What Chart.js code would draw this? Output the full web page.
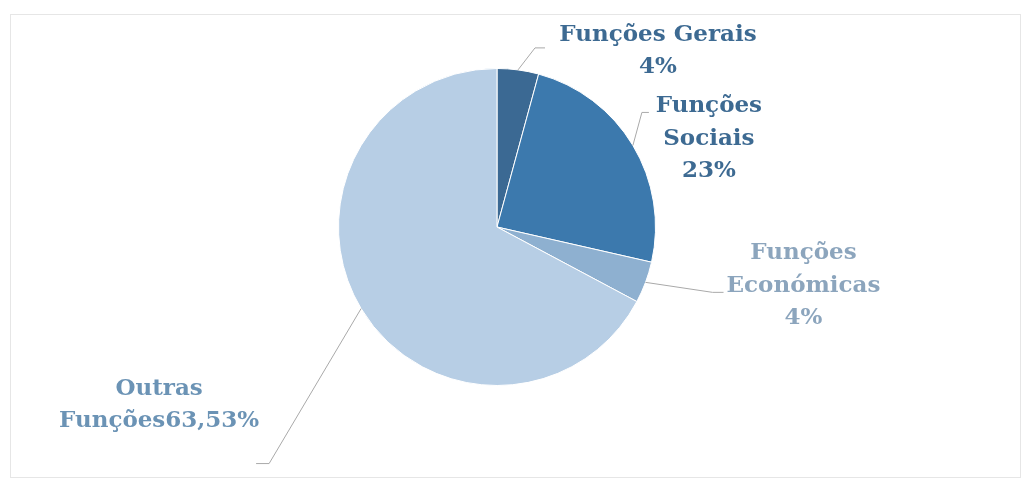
<!DOCTYPE html>
<html>
<head>
<meta charset="utf-8">
<script src="https://cdn.jsdelivr.net/npm/chart.js@4"></script>
<style>
  html, body { margin: 0; padding: 0; background: #fff; }
  #wrap { position: relative; width: 1027px; height: 484px; }
  #frame { position: absolute; left: 10px; top: 14px; width: 1011px; height: 464px; border: 1px solid #e6e6e6; box-sizing: border-box; }
  canvas { position: absolute; left: 0; top: 0; }
</style>
</head>
<body>
<div id="wrap">
  <div id="frame"></div>
  <canvas id="pie" width="1027" height="484"></canvas>
</div>
<script>
// --- data ---
const categories = ["Funções Gerais", "Funções Sociais", "Funções Económicas", "Outras Funções"];
const values = [4, 23, 4, 63.53];
const labelLines = [
  ["Funções Gerais", "4%"],
  ["Funções", "Sociais", "23%"],
  ["Funções", "Económicas", "4%"],
  ["Outras", "Funções63,53%"],
];

const sliceColors = ["#3b6993", "#3c79ad", "#8eb0d0", "#b7cee5"];
const textColors = ["#3d6a92", "#3d6a92", "#8ca5bd", "#6b93b5"];

// leader line / label placement, relative to the slice's outer mid point
const labelPlacement = [
  { elbow: [17, -22], tail: 10, text: [140, -35] },
  { elbow: [9, -33], tail: 7, text: [76, -39] },
  { elbow: [67, 10], tail: 11, text: [158, -29] },
  { elbow: [-92, 155], tail: -13, text: [-202, 80] },
];

// draws the callout labels next to each slice
const calloutPlugin = {
  id: "callouts",
  afterDraw(chart) {
    const ctx = chart.ctx;
    const meta = chart.getDatasetMeta(0);
    ctx.save();
    meta.data.forEach((arc, i) => {
      const p = arc.getProps(["x", "y", "startAngle", "endAngle", "outerRadius"], true);
      const mid = (p.startAngle + p.endAngle) / 2;
      const ex = p.x + Math.cos(mid) * p.outerRadius;
      const ey = p.y + Math.sin(mid) * p.outerRadius;
      const pl = labelPlacement[i];
      const bx = ex + pl.elbow[0], by = ey + pl.elbow[1];

      ctx.strokeStyle = "#a9a9a9";
      ctx.lineWidth = 1;
      ctx.beginPath();
      ctx.moveTo(ex, ey);
      ctx.lineTo(bx, by);
      ctx.lineTo(bx + pl.tail, by);
      ctx.stroke();

      ctx.fillStyle = textColors[i];
      ctx.font = "bold 23px 'DejaVu Serif', serif";
      ctx.textAlign = "center";
      ctx.textBaseline = "middle";
      labelLines[i].forEach((line, j) => {
        ctx.fillText(line, ex + pl.text[0], ey + pl.text[1] + j * 32.5);
      });
    });
    ctx.restore();
  },
};

new Chart(document.getElementById("pie"), {
  type: "pie",
  data: {
    labels: categories,
    datasets: [{
      data: values,
      backgroundColor: sliceColors,
      borderColor: "#ffffff",
      borderWidth: 1,
    }],
  },
  options: {
    responsive: false,
    animation: false,
    layout: { padding: { top: 68, bottom: 98, left: 0, right: 33 } },
    plugins: {
      legend: { display: false },
      tooltip: { enabled: false },
    },
  },
  plugins: [calloutPlugin],
});
</script>
</body>
</html>
